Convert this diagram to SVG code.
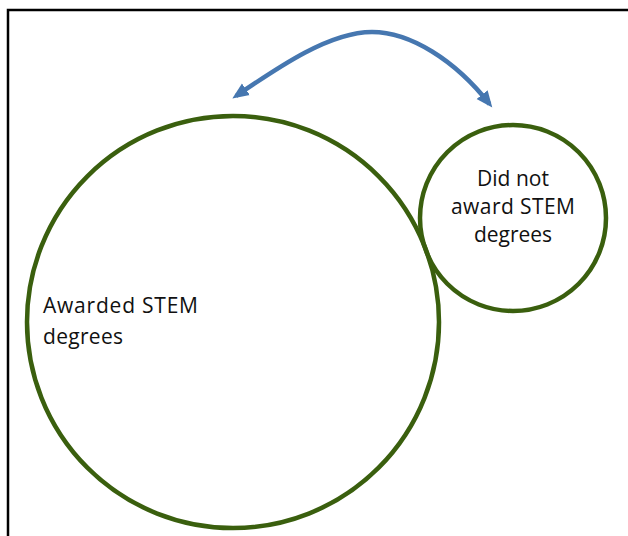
<svg xmlns="http://www.w3.org/2000/svg" width="628" height="536" viewBox="0 0 628 536">
  <style>
    .ring { fill: none; stroke: #3a5f0e; stroke-width: 4.5; }
    .label { font-family: "Open Sans", "Liberation Sans", sans-serif; font-size: 21px; fill: #111111; }
    .conn { fill: none; stroke: #4677b0; stroke-width: 4.5; }
  </style>
  <defs>
    <marker id="head" markerUnits="userSpaceOnUse" markerWidth="17" markerHeight="15" refX="12" refY="7.5" orient="auto-start-reverse">
      <path d="M0,0.5 L16.5,7.5 L0,14.5 z" fill="#4677b0"/>
    </marker>
  </defs>
  <rect width="628" height="536" fill="#ffffff"/>
  <path d="M8,536 V10 H628" fill="none" stroke="#000000" stroke-width="2.5"/>

  <g id="node-awarded">
    <circle class="ring" cx="233" cy="322" r="206"/>
    <text class="label" x="43" y="313" textLength="155">Awarded STEM</text>
    <text class="label" x="43" y="344" textLength="80">degrees</text>
  </g>

  <g id="node-not-awarded">
    <circle class="ring" cx="513" cy="218" r="93"/>
    <text class="label" x="513" y="186" text-anchor="middle">Did not</text>
    <text class="label" x="513" y="214" text-anchor="middle" textLength="124">award STEM</text>
    <text class="label" x="513" y="242" text-anchor="middle">degrees</text>
  </g>

  <g id="connectors">
    <path class="conn" d="M236,96 C280,66 330,32 372,32 C410,32 455,60 489.5,104" marker-start="url(#head)" marker-end="url(#head)"/>
  </g>
</svg>
